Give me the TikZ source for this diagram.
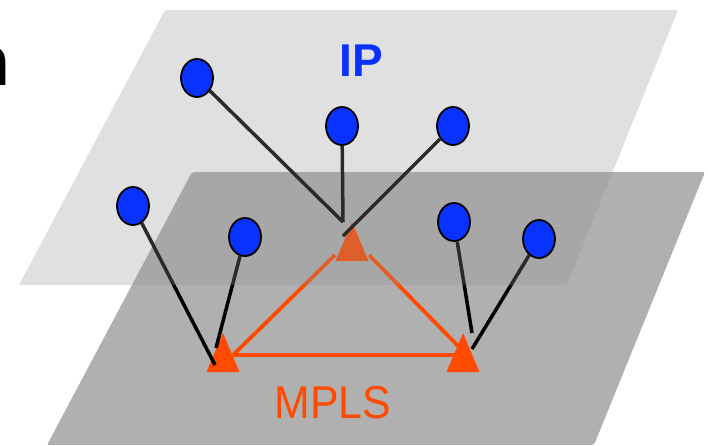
\documentclass[tikz,border=0pt]{standalone}
\usepackage{fontspec}
\setmainfont{Liberation Sans}
\newfontfamily\handfont{DejaVu Sans}
\usetikzlibrary{shapes.geometric}
\pgfdeclarelayer{front}
\pgfsetlayers{main,front}
\definecolor{ipblue}{RGB}{10,50,255}
\definecolor{mplsorange}{RGB}{255,74,0}
\definecolor{planegray}{RGB}{148,148,148}
\definecolor{darkplane}{RGB}{176,176,176}
\begin{document}
\begin{tikzpicture}[x=1pt,y=-1pt,
  host/.style={ellipse,draw=black,line width=1.8pt,fill=ipblue,minimum width=32pt,minimum height=38pt,inner sep=0pt},
  link/.style={draw=black,line width=3.5pt},
  core/.style={draw=mplsorange,line width=3.8pt},
  router/.style={fill=mplsorange},
  lowerplane/.style={fill=darkplane,rounded corners=2pt},
  upperplane/.style={fill=planegray,fill opacity=0.29,rounded corners=2pt},
  iplabel/.style={text=ipblue,font=\bfseries\fontsize{46}{50}\selectfont,inner sep=0pt,anchor=base},
  mplslabel/.style={text=mplsorange,font=\fontsize{46}{50}\selectfont,inner sep=0pt,anchor=base}]
\useasboundingbox (0,0) rectangle (708,445);
% lower (MPLS) plane
\fill[lowerplane] (192,172) -- (705,172) -- (594,445) -- (47,445) -- cycle;
% hosts and label on top
\begin{pgfonlayer}{front}
\node[host] (a1) at (197,78) {};
\node[host] (a2) at (342,126) {};
\node[host] (a3) at (453,126) {};
\node[host] (b1) at (133,206) {};
\node[host] (b2) at (245,237) {};
\node[host] (b3) at (454,222) {};
\node[host] (b4) at (539,239) {};
\node[iplabel] (ip) at (361,76) {IP};
\end{pgfonlayer}
% routers
\coordinate (t1) at (223,333);
\coordinate (t2) at (463,333);
\coordinate (t3) at (352,222);
\coordinate (t1r) at (233,355);
\coordinate (t2l) at (460,355);
\coordinate (t2tl) at (462,350);
\coordinate (t3l) at (335,255);
\coordinate (t3r) at (369,255);
\draw[core] (t1r) -- (t2l);
\draw[core] (t1r) -- (t3l);
\draw[core] (t3r) -- (t2tl);
\fill[router] (t1) -- ++(16.5,39) -- ++(-33,0) -- cycle;
\fill[router] (t2) -- ++(16.5,39) -- ++(-33,0) -- cycle;
\fill[router] (t3) -- ++(16.5,39) -- ++(-33,0) -- cycle;
% attachment points
\coordinate (t3top) at (343,222);
\coordinate (t3mid) at (343,236);
\coordinate (t1a) at (215,365);
\coordinate (t1b) at (216,348);
\coordinate (t2a) at (472,333);
\coordinate (t2b) at (472,349);
\draw[link] (a1) -- (t3top);
\draw[link] (a2) -- (t3top);
\draw[link] (a3) -- (t3mid);
\draw[link] (b1) -- (t1a);
\draw[link] (b2) -- (t1b);
\draw[link] (b3) -- (t2a);
\draw[link] (b4) -- (t2b);
% upper (IP) plane, translucent over the lower one
\fill[upperplane] (165,10) -- (678,10) -- (567,285) -- (19,285) -- cycle;
\node[mplslabel] (mpls) at (333,418) {\scalebox{0.93}[1]{MPLS}};
\node[anchor=base west,inner sep=0pt,font=\handfont\fontsize{68}{70}\selectfont] (hand) at (-32,85) {n};
\end{tikzpicture}
\end{document}
